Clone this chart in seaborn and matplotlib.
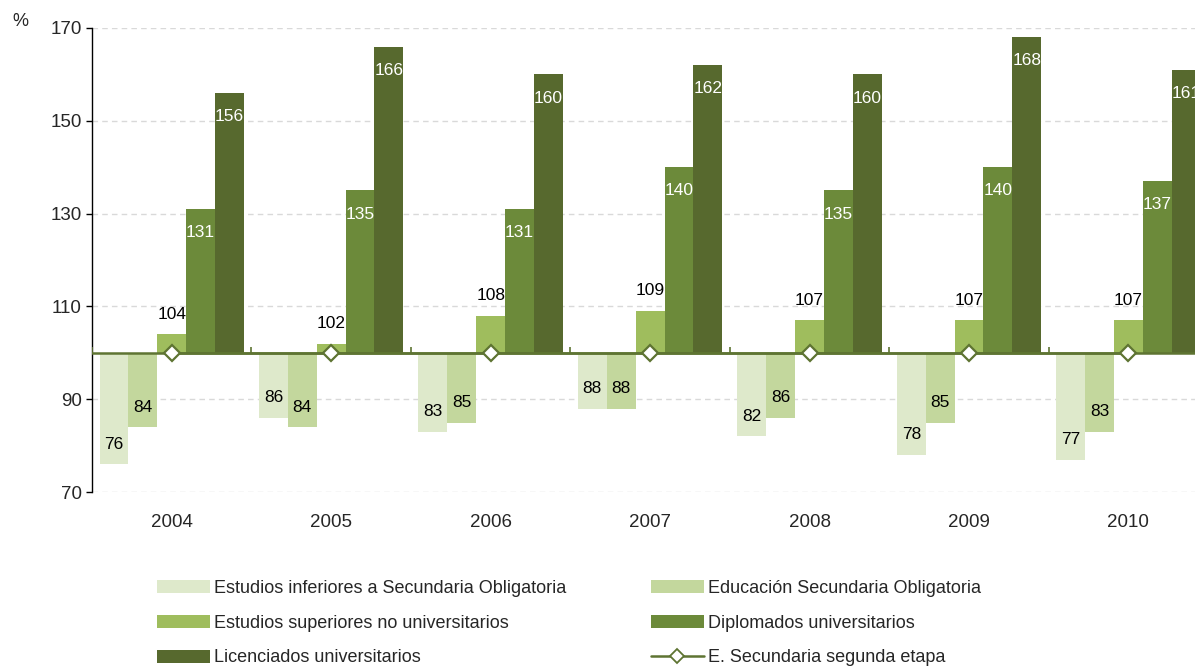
import matplotlib
matplotlib.use('Agg')
from matplotlib import pyplot as plt
from matplotlib.lines import Line2D
import numpy as np
import pandas as pd
import seaborn as sns

years = ['2004', '2005', '2006', '2007', '2008', '2009', '2010']
inferiores = [76, 86, 83, 88, 82, 78, 77]
eso = [84, 84, 85, 88, 86, 85, 83]
superiores_no_univ = [104, 102, 108, 109, 107, 107, 107]
diplomados = [131, 135, 131, 140, 135, 140, 137]
licenciados = [156, 166, 160, 162, 160, 168, 161]
secundaria_2 = [100, 100, 100, 100, 100, 100, 100]

series_names = [
    'Estudios inferiores a Secundaria Obligatoria',
    'Educación Secundaria Obligatoria',
    'Estudios superiores no universitarios',
    'Diplomados universitarios',
    'Licenciados universitarios',
]
line_name = 'E. Secundaria segunda etapa'
series_vals = [inferiores, eso, superiores_no_univ, diplomados, licenciados]
colors = ['#DEE9CB', '#C3D79D', '#9FBD5D', '#6C8A3A', '#57692E']
line_color = '#5E7432'

# long form table, bars hang from the 100 baseline
rows = []
for name, vals in zip(series_names, series_vals):
    for y, v in zip(years, vals):
        rows.append((y, name, v))
df = pd.DataFrame(rows, columns=['year', 'serie', 'valor'])
df['dif'] = df['valor'] - 100

sns.set_style('white')
plt.rcParams['font.family'] = ['Liberation Sans', 'DejaVu Sans']

fig = plt.figure(figsize=(11.95, 6.66), dpi=100)
ax = fig.add_axes([0.077, 0.261, 0.934, 0.697])

sns.barplot(
    data=df, x='year', y='dif', hue='serie', hue_order=series_names, order=years,
    palette=colors, saturation=1, width=0.905, errorbar=None, bottom=100,
    legend=False, ax=ax, zorder=2, linewidth=0
)

# data labels
for i, (cont, vals) in enumerate(zip(ax.containers, series_vals)):
    for patch, v in zip(cont, vals):
        x = patch.get_x() + patch.get_width() / 2
        if i < 3:
            off, col = 14.5, 'black'
        else:
            off, col = -17, 'white'
        ax.annotate('{:d}'.format(v), (x, v), xytext=(0, off), textcoords='offset points',
                    ha='center', va='center', fontsize=12.5, color=col, zorder=6)

# category axis crossing at 100
ax.axhline(100, color=line_color, lw=1.8, zorder=4)
ax.vlines(np.arange(len(years) + 1) - 0.5, 100, 101.3, color=line_color, lw=1.2, zorder=4)
sns.lineplot(
    x=np.arange(len(years)), y=secundaria_2, ax=ax, color=line_color, lw=1.8,
    marker='D', markersize=8.5, markerfacecolor='white', markeredgecolor=line_color,
    markeredgewidth=1.6, zorder=5
)

ax.set_xlim(-0.5, len(years) - 0.5)
ax.set_ylim(70, 170)
ax.set_yticks([70, 90, 110, 130, 150, 170])
ax.set_xlabel('')
ax.set_ylabel('')
ax.yaxis.grid(True, color='#D9D9D9', linestyle=(0, (4, 3)), lw=1)
ax.xaxis.grid(False)
ax.set_axisbelow(True)
for s in ['top', 'right', 'bottom']:
    ax.spines[s].set_visible(False)
ax.spines['left'].set_color('black')
ax.spines['left'].set_linewidth(1)
ax.tick_params(axis='y', left=True, length=4.5, width=1, color='black', labelsize=13.5, pad=3)
ax.tick_params(axis='x', length=0, labelsize=13.5, pad=16)

fig.text(0.010, 0.967, '%', fontsize=13, va='center', ha='left')

# legend, row-wise order
handles = list(ax.containers) + [
    Line2D([], [], color=line_color, lw=1.8, marker='D', markersize=7,
           markerfacecolor='white', markeredgecolor=line_color, markeredgewidth=1.3)
]
labels = series_names + [line_name]
order = [0, 2, 4, 1, 3, 5]
fig.legend(
    [handles[k] for k in order], [labels[k] for k in order],
    loc='upper left', bbox_to_anchor=(0.131, 0.129), ncol=2, frameon=False,
    fontsize=13, handlelength=2.94, handleheight=0.72, handletextpad=0.22,
    columnspacing=4.7, labelspacing=0.98, borderpad=0, borderaxespad=0
)

fig.savefig('out.png', dpi=100)
